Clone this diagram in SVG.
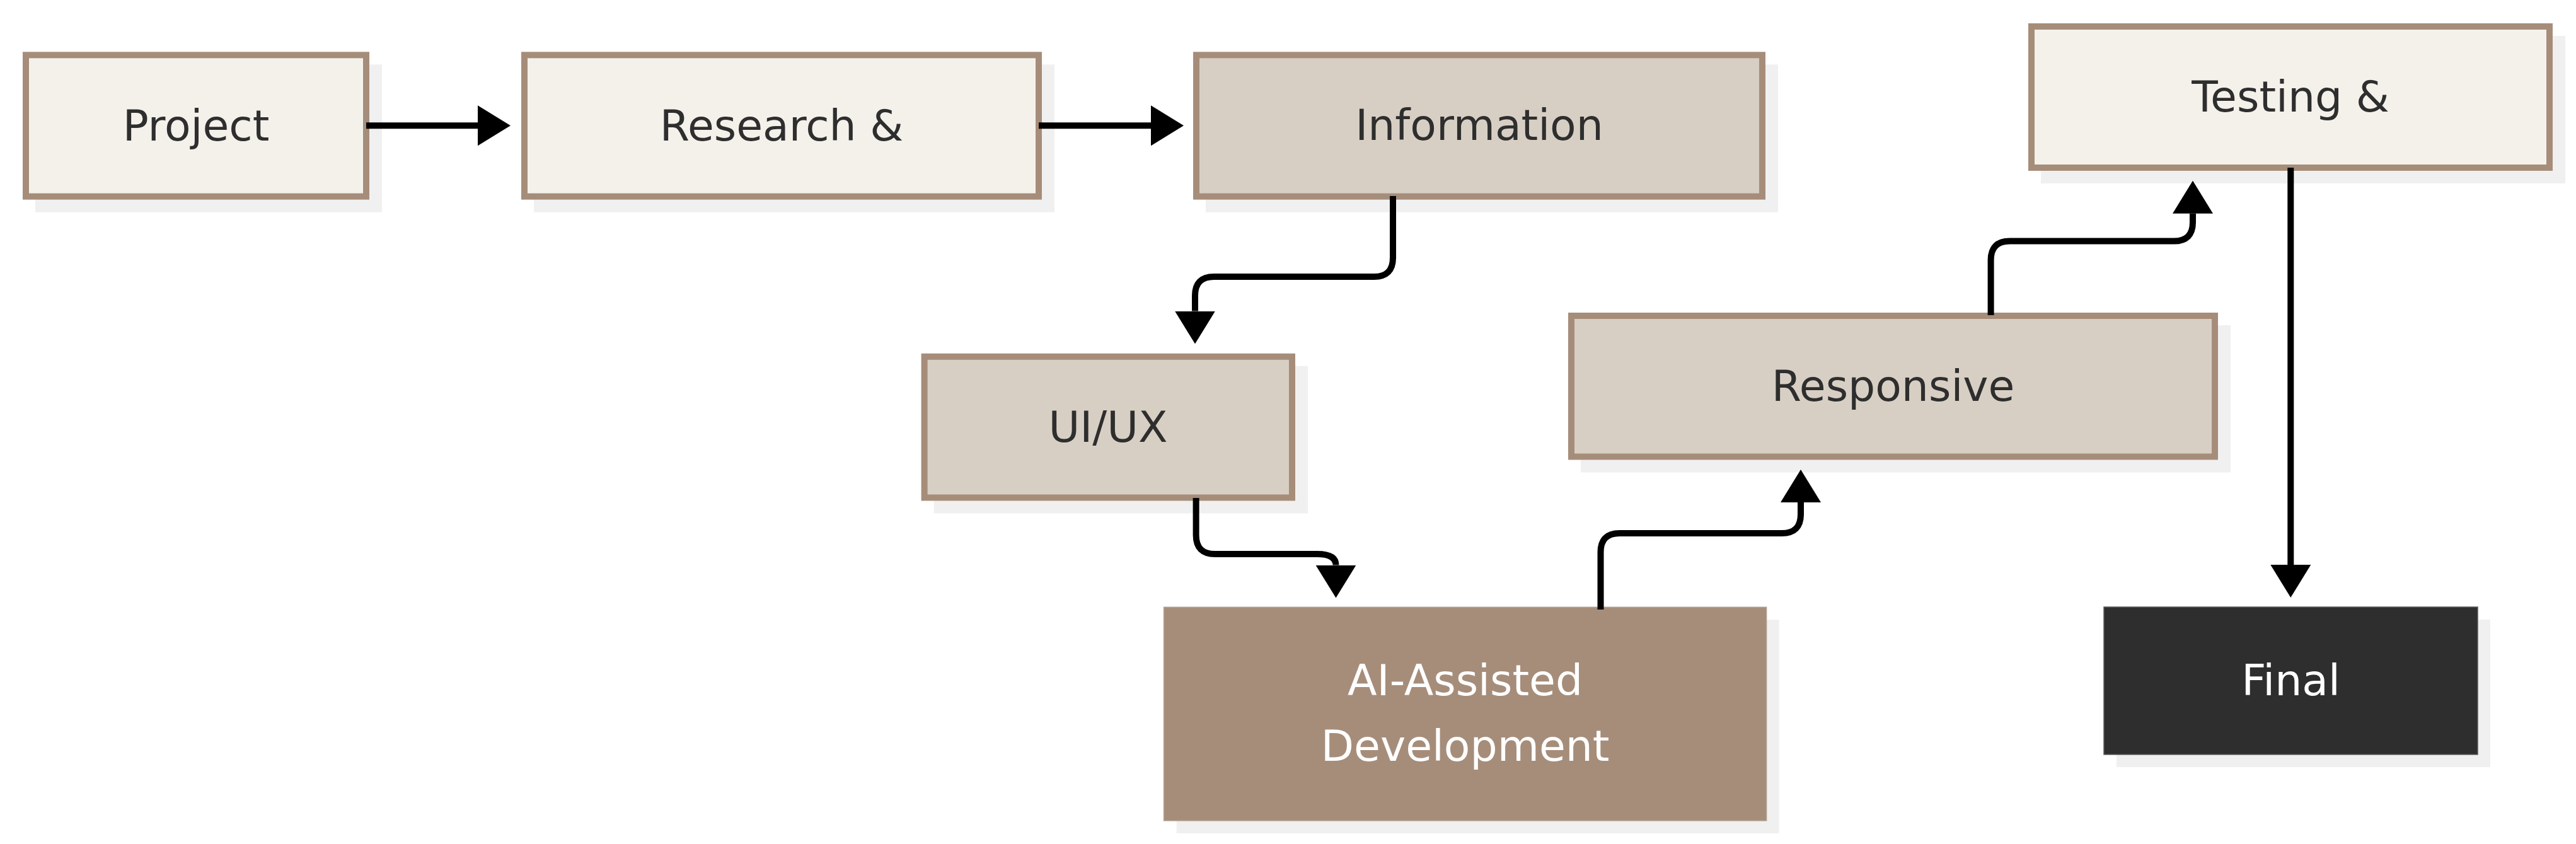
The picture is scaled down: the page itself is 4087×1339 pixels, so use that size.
<svg xmlns="http://www.w3.org/2000/svg" width="4087" height="1339" viewBox="0 0 4087 1339">
  <defs>
    <marker id="ah" viewBox="0 0 52 64" refX="0" refY="32" markerWidth="52" markerHeight="64" markerUnits="userSpaceOnUse" orient="auto">
      <path d="M0,0 L52,32 L0,64 Z" fill="#000"/>
    </marker>
    <style>
      .shadow { fill: #f0f0f0; }
      .light { fill: #f4f1eb; stroke: #a68d7a; stroke-width: 10; }
      .mid { fill: #d8cfc4; stroke: #a68d7a; stroke-width: 10; }
      .accent { fill: #a68d7a; stroke: #b3a091; stroke-width: 1.5; }
      .dark { fill: #2e2e2e; stroke: #5a5a5a; stroke-width: 1.5; }
      .lbl { font-family: "DejaVu Sans", "Noto Sans", sans-serif; font-size: 68px; fill: #2e2e2e; text-anchor: middle; }
      .lbl-w { font-family: "DejaVu Sans", "Noto Sans", sans-serif; font-size: 68px; fill: #ffffff; text-anchor: middle; }
      .edge { fill: none; stroke: #000; stroke-width: 10; marker-end: url(#ah); }
    </style>
  </defs>
  <rect width="4087" height="1339" fill="#ffffff"/>

  <g id="node-project">
    <rect class="shadow" x="56" y="102.3" width="550" height="234.4"/>
    <rect class="light" x="41" y="87.3" width="540" height="224.4"/>
    <text class="lbl" x="311" y="223">Project</text>
  </g>

  <g id="node-research">
    <rect class="shadow" x="847" y="102.3" width="826" height="234.4"/>
    <rect class="light" x="832" y="87.3" width="816" height="224.4"/>
    <text class="lbl" x="1240" y="223">Research &amp;</text>
  </g>

  <g id="node-information">
    <rect class="shadow" x="1913" y="102.3" width="908" height="234.4"/>
    <rect class="mid" x="1898" y="87.3" width="898" height="224.4"/>
    <text class="lbl" x="2347" y="222">Information</text>
  </g>

  <g id="node-testing">
    <rect class="shadow" x="3238" y="57" width="832" height="234"/>
    <rect class="light" x="3223" y="42" width="822" height="224"/>
    <text class="lbl" x="3634" y="177">Testing &amp;</text>
  </g>

  <g id="node-uiux">
    <rect class="shadow" x="1481.6" y="580.8" width="593.4" height="233.7"/>
    <rect class="mid" x="1466.6" y="565.8" width="583.4" height="223.7"/>
    <text class="lbl" x="1758" y="701">UI/UX</text>
  </g>

  <g id="node-responsive">
    <rect class="shadow" x="2508" y="516" width="1031" height="233.5"/>
    <rect class="mid" x="2493" y="501" width="1021" height="223.5"/>
    <text class="lbl" x="3003.5" y="636">Responsive</text>
  </g>

  <g id="node-ai">
    <rect class="shadow" x="1866.6" y="983.3" width="956" height="338.7"/>
    <rect class="accent" x="1846.6" y="963.3" width="956" height="338.7"/>
    <text class="lbl-w" x="2324.6" y="1103">AI-Assisted</text>
    <text class="lbl-w" x="2324.6" y="1207">Development</text>
  </g>

  <g id="node-final">
    <rect class="shadow" x="3358" y="983" width="593" height="234"/>
    <rect class="dark" x="3338" y="963" width="593" height="234"/>
    <text class="lbl-w" x="3634.5" y="1103">Final</text>
  </g>

  <g id="connectors">
    <path class="edge" d="M581,199.3 H758"/>
    <path class="edge" d="M1648,199.3 H1826"/>
    <path class="edge" d="M2210,311 V409 Q2210,439 2180,439 H1926 Q1896,439 1896,469 V493.6"/>
    <path class="edge" d="M1897.6,790 V849 Q1897.6,879 1927.6,879 H2090 Q2119.5,879 2119.5,896.6"/>
    <path class="edge" d="M2539.5,967 V876 Q2539.5,846 2569.5,846 H2827 Q2857,846 2857,816 V797"/>
    <path class="edge" d="M3158.6,500 V412.6 Q3158.6,382.6 3188.6,382.6 H3449 Q3479,382.6 3479,352.6 V338.7"/>
    <path class="edge" d="M3634.3,266 V896"/>
  </g>
</svg>
